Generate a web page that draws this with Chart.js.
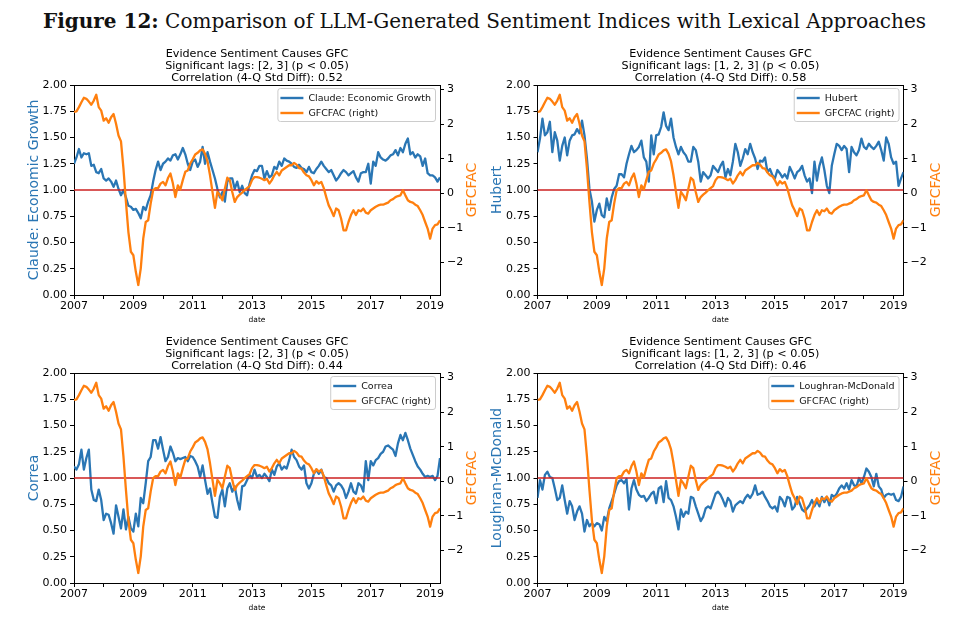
<!DOCTYPE html>
<html>
<head>
<meta charset="utf-8">
<script src="https://cdn.jsdelivr.net/npm/chart.js@4.4.1/dist/chart.umd.min.js"></script>
<style>
  body { margin: 0; background: #fff; width: 969px; height: 625px; overflow: hidden; position: relative; }
  #figtitle { position: absolute; left: 0; top: 11px; width: 969px; text-align: center;
              font: 20px "DejaVu Serif"; line-height: 20px; color: #111; white-space: nowrap; }
  .panel { position: absolute; height: 292px; }
</style>
</head>
<body>
<div id="figtitle"><b>Figure 12:</b> Comparison of LLM-Generated Sentiment Indices with Lexical Approaches</div>
<div class="panel" style="left:0;top:38px;width:484px"><canvas id="c1"></canvas></div>
<div class="panel" style="left:484px;top:38px;width:485px"><canvas id="c2"></canvas></div>
<div class="panel" style="left:0;top:326px;width:484px"><canvas id="c3"></canvas></div>
<div class="panel" style="left:484px;top:326px;width:485px"><canvas id="c4"></canvas></div>
<script>
// monthly series, Jan 2007 .. May 2019
const START_YEAR = 2007;
const REF_LEVEL = 1;
const RIGHT_MIN = -2.94, RIGHT_MAX = 3.13;

const GFCFAC = [
  2.35, 2.37, 2.49, 2.63, 2.76, 2.73, 2.65, 2.56, 2.68, 2.85,
  2.49, 2.39, 2.10, 2.17, 2.04, 2.20, 2.29, 2.01, 1.67, 1.50,
  0.71, -0.25, -1.12, -1.69, -1.79, -2.27, -2.65, -2.17, -1.31, -0.83,
  -0.78, -0.30, 0.09, 0.15, 0.15, 0.28, 0.33, 0.23, 0.44, 0.57,
  0.28, -0.11, 0.23, 0.11, 0.38, 0.62, 0.66, 0.86, 0.98, 1.12,
  1.17, 1.24, 1.27, 1.14, 0.92, 0.52, 0.04, -0.42, 0.04, -0.06,
  -0.20, 0.13, 0.45, 0.38, 0.04, -0.25, -0.11, -0.04, 0.02, 0.09,
  0.15, 0.21, 0.38, 0.47, 0.47, 0.45, 0.42, 0.38, 0.42, 0.28,
  0.38, 0.52, 0.62, 0.52, 0.66, 0.71, 0.76, 0.81, 0.81, 0.88,
  0.83, 0.73, 0.71, 0.60, 0.52, 0.49, 0.38, 0.23, 0.35, 0.28,
  0.33, 0.15, -0.11, -0.35, -0.49, -0.66, -0.44, -0.49, -0.73, -1.07,
  -1.07, -0.83, -0.63, -0.49, -0.63, -0.49, -0.52, -0.44, -0.56, -0.59,
  -0.49, -0.44, -0.39, -0.35, -0.33, -0.33, -0.30, -0.27, -0.20, -0.17,
  -0.11, -0.08, -0.06, 0.09, -0.06, -0.20, -0.25, -0.27, -0.33, -0.37,
  -0.49, -0.63, -0.83, -1.02, -1.31, -1.02, -0.92, -0.90, -0.78
];

const CLAUDE = [
  1.25, 1.31, 1.39, 1.31, 1.35, 1.34, 1.35, 1.23, 1.24, 1.17,
  1.16, 1.20, 1.11, 1.09, 1.11, 1.08, 1.03, 1.09, 1.01, 0.95,
  1.00, 0.93, 0.85, 0.84, 0.81, 0.82, 0.78, 0.73, 0.84, 0.81,
  0.89, 0.95, 1.08, 1.19, 1.27, 1.19, 1.25, 1.27, 1.30, 1.28,
  1.33, 1.34, 1.29, 1.34, 1.40, 1.34, 1.25, 1.19, 1.27, 1.29,
  1.22, 1.27, 1.41, 1.25, 1.36, 1.27, 1.19, 1.11, 1.01, 0.93,
  0.98, 0.89, 1.08, 1.11, 1.11, 1.01, 1.08, 0.98, 1.04, 0.97,
  0.95, 1.06, 1.14, 1.19, 1.18, 1.23, 1.23, 1.11, 1.18, 1.12,
  1.14, 1.22, 1.20, 1.27, 1.23, 1.30, 1.28, 1.27, 1.25, 1.22,
  1.21, 1.24, 1.21, 1.20, 1.17, 1.22, 1.17, 1.16, 1.20, 1.23,
  1.27, 1.23, 1.20, 1.17, 1.19, 1.14, 1.09, 1.12, 1.16, 1.19,
  1.17, 1.14, 1.16, 1.18, 1.12, 1.08, 1.16, 1.17, 1.17, 1.25,
  1.06, 1.27, 1.23, 1.36, 1.31, 1.29, 1.28, 1.30, 1.33, 1.34,
  1.38, 1.33, 1.40, 1.36, 1.44, 1.49, 1.34, 1.36, 1.31, 1.34,
  1.32, 1.23, 1.30, 1.16, 1.14, 1.14, 1.12, 1.08, 1.12
];

const HUBERT = [
  1.36, 1.49, 1.68, 1.52, 1.55, 1.65, 1.36, 1.55, 1.47, 1.28,
  1.42, 1.50, 1.33, 1.47, 1.52, 1.53, 1.58, 1.54, 1.66, 1.52,
  1.30, 1.01, 0.89, 0.70, 0.81, 0.87, 0.76, 0.74, 0.92, 0.81,
  0.93, 1.01, 1.04, 1.15, 1.15, 1.12, 1.25, 1.34, 1.42, 1.36,
  1.38, 1.41, 1.47, 1.31, 1.27, 1.08, 1.52, 1.34, 1.52, 1.53,
  1.60, 1.74, 1.61, 1.57, 1.68, 1.50, 1.41, 1.34, 1.41, 1.36,
  1.33, 1.27, 1.27, 1.41, 1.38, 1.27, 1.08, 1.17, 1.14, 1.11,
  1.14, 1.23, 1.20, 1.17, 1.23, 1.27, 1.12, 1.20, 1.14, 1.27,
  1.44, 1.36, 1.23, 1.30, 1.39, 1.34, 1.44, 1.36, 1.30, 1.20,
  1.28, 1.27, 1.31, 1.17, 1.20, 1.14, 1.11, 1.19, 1.16, 1.12,
  1.15, 1.11, 1.22, 1.17, 1.11, 1.17, 1.19, 1.23, 1.14, 1.08,
  1.11, 0.97, 1.27, 1.09, 1.23, 1.31, 1.19, 1.04, 0.97, 1.23,
  1.34, 1.44, 1.42, 1.38, 1.42, 1.39, 1.17, 1.41, 1.36, 1.33,
  1.38, 1.49, 1.41, 1.39, 1.44, 1.41, 1.39, 1.42, 1.46, 1.38,
  1.28, 1.50, 1.44, 1.31, 1.25, 1.27, 1.04, 1.11, 1.17
];

const CORREA = [
  1.11, 1.08, 1.13, 1.27, 1.08, 1.19, 1.27, 0.89, 0.79, 0.78,
  0.89, 0.79, 0.60, 0.66, 0.65, 0.57, 0.47, 0.74, 0.63, 0.52,
  0.70, 0.51, 0.63, 0.52, 0.49, 0.66, 0.54, 0.81, 0.76, 0.95,
  1.16, 1.20, 1.36, 1.36, 1.28, 1.39, 1.27, 1.16, 1.20, 1.30,
  1.24, 1.16, 1.19, 1.18, 1.19, 1.20, 1.16, 1.21, 1.20, 1.16,
  1.11, 1.01, 1.12, 0.98, 0.85, 0.90, 0.76, 0.63, 0.62, 0.82,
  0.89, 0.73, 0.90, 0.95, 0.87, 0.92, 0.79, 0.70, 0.92, 0.93,
  0.98, 1.03, 1.00, 1.08, 1.01, 1.03, 1.00, 1.04, 1.01, 0.97,
  1.08, 1.03, 1.11, 1.14, 1.08, 1.11, 1.09, 1.17, 1.27, 1.20,
  1.17, 1.11, 1.08, 1.12, 0.95, 0.90, 0.95, 1.04, 1.08, 1.04,
  1.08, 1.01, 1.00, 0.95, 0.93, 0.87, 0.93, 0.95, 0.93, 0.89,
  0.81, 0.87, 0.95, 0.87, 0.85, 0.95, 0.93, 0.87, 1.16, 0.98,
  1.16, 1.12, 1.17, 1.19, 1.23, 1.25, 1.30, 1.31, 1.29, 1.27,
  1.21, 1.33, 1.41, 1.36, 1.43, 1.36, 1.28, 1.22, 1.16, 1.11,
  1.08, 1.04, 1.01, 1.02, 1.01, 1.02, 0.98, 1.02, 1.19
];

const LOUGHRAN = [
  0.81, 0.98, 0.89, 1.03, 1.06, 1.01, 1.00, 0.90, 0.79, 0.81,
  0.93, 0.79, 0.66, 0.78, 0.73, 0.60, 0.68, 0.73, 0.66, 0.49,
  0.60, 0.54, 0.57, 0.54, 0.57, 0.56, 0.50, 0.63, 0.59, 0.71,
  0.78, 0.85, 0.93, 0.97, 0.98, 0.95, 0.99, 0.70, 0.90, 0.98,
  0.89, 0.84, 0.82, 0.83, 0.78, 0.81, 0.85, 0.87, 0.76, 0.90,
  0.92, 0.77, 0.97, 0.81, 0.79, 0.73, 0.63, 0.51, 0.70, 0.63,
  0.68, 0.66, 0.82, 0.81, 0.73, 0.66, 0.59, 0.63, 0.71, 0.73,
  0.71, 0.78, 0.85, 0.87, 0.84, 0.79, 0.73, 0.81, 0.78, 0.68,
  0.74, 0.76, 0.78, 0.76, 0.81, 0.84, 0.81, 0.85, 0.93, 0.84,
  0.85, 0.87, 0.82, 0.78, 0.73, 0.71, 0.73, 0.68, 0.82, 0.79,
  0.73, 0.82, 0.81, 0.70, 0.73, 0.82, 0.76, 0.70, 0.68, 0.71,
  0.74, 0.79, 0.73, 0.78, 0.73, 0.82, 0.77, 0.82, 0.74, 0.84,
  0.82, 0.85, 0.90, 0.93, 0.90, 0.95, 0.89, 0.98, 0.93, 0.92,
  1.00, 0.95, 1.01, 1.09, 1.06, 1.01, 0.92, 1.04, 0.92, 0.89,
  0.81, 0.84, 0.85, 0.84, 0.85, 0.79, 0.78, 0.82, 0.92
];

const PANELS = [
  { id: 'c1', name: 'Claude: Economic Growth', values: CLAUDE, lags: '[2, 3]', corr: '0.52' },
  { id: 'c2', name: 'Hubert', values: HUBERT, lags: '[1, 2, 3]', corr: '0.58' },
  { id: 'c3', name: 'Correa', values: CORREA, lags: '[2, 3]', corr: '0.44' },
  { id: 'c4', name: 'Loughran-McDonald', values: LOUGHRAN, lags: '[1, 2, 3]', corr: '0.46' }
];

// axis box widths per panel (px)
const LAYOUT = {
  c1: { yw: 74, y1w: 44 },
  c2: { yw: 53.5, y1w: 65.5 },
  c3: { yw: 74, y1w: 44 },
  c4: { yw: 53.5, y1w: 65.5 }
};

const BLUE = '#2a76b4', ORANGE = '#ff7f0e', RED = '#cc2020';
const FONT = 'DejaVu Sans';

const xOf = i => START_YEAR + i / 12;
const X_MAX = xOf(GFCFAC.length - 1);
const fmtMinus = v => (v < 0 ? '\u2212' : '') + Math.abs(v);

const decorPlugin = {
  id: 'decor',
  afterDraw(chart) {
    const { ctx, chartArea: a } = chart;
    const p = chart.options.plugins.decor;
    ctx.save();
    // top spine
    ctx.strokeStyle = '#000';
    ctx.lineWidth = 1;
    ctx.beginPath();
    ctx.moveTo(a.left, Math.round(a.top) + 0.5);
    ctx.lineTo(a.right, Math.round(a.top) + 0.5);
    ctx.stroke();

    // subplot title
    const cx = (a.left + a.right) / 2;
    ctx.fillStyle = '#000';
    ctx.font = '11.2px "' + FONT + '"';
    ctx.textAlign = 'center';
    ctx.textBaseline = 'alphabetic';
    p.title.forEach((line, k) => ctx.fillText(line, cx, a.top - 28.5 + k * 12.1));

    // axis titles, both read bottom to top
    ctx.font = '14px "' + FONT + '"';
    const cy = (a.top + a.bottom) / 2;
    ctx.save();
    ctx.translate(a.left - 36.5, cy);
    ctx.rotate(-Math.PI / 2);
    ctx.fillStyle = BLUE;
    ctx.fillText(p.leftTitle, 0, 0);
    ctx.restore();
    ctx.save();
    ctx.translate(a.right + 36, cy);
    ctx.rotate(-Math.PI / 2);
    ctx.fillStyle = ORANGE;
    ctx.fillText('GFCFAC', 0, 0);
    ctx.restore();

    // legend box, upper right inside the axes
    const items = chart.data.datasets.filter(d => d.inLegend);
    ctx.font = '9.5px "' + FONT + '"';
    const tw = Math.max(...items.map(d => ctx.measureText(d.label).width));
    const bw = 31 + tw + 4, bh = 33;
    const bx = a.right - 5 - bw, by = a.top + 3;
    ctx.beginPath();
    ctx.roundRect(bx + 0.5, by + 0.5, bw, bh, 2.5);
    ctx.fillStyle = 'rgba(255,255,255,0.8)';
    ctx.fill();
    ctx.strokeStyle = '#cccccc';
    ctx.stroke();
    items.forEach((d, k) => {
      const ly = by + 10 + k * 15;
      ctx.strokeStyle = d.borderColor;
      ctx.lineWidth = 2.4;
      ctx.beginPath();
      ctx.moveTo(bx + 3, ly);
      ctx.lineTo(bx + 26, ly);
      ctx.stroke();
      ctx.fillStyle = '#111';
      ctx.textAlign = 'left';
      ctx.textBaseline = 'middle';
      ctx.fillText(d.label, bx + 31, ly + 0.5);
    });
    ctx.restore();
  }
};

const tickFont = { family: FONT, size: 11 };

PANELS.forEach(pn => {
  const lay = LAYOUT[pn.id];
  new Chart(document.getElementById(pn.id), {
    type: 'line',
    data: {
      datasets: [
        {
          label: pn.name, inLegend: true, yAxisID: 'y', order: 3,
          data: pn.values.map((v, i) => ({ x: xOf(i), y: v })),
          borderColor: BLUE, borderWidth: 2.3
        },
        {
          label: 'ref', inLegend: false, yAxisID: 'y', order: 2,
          data: [{ x: START_YEAR, y: REF_LEVEL }, { x: X_MAX, y: REF_LEVEL }],
          borderColor: RED, borderWidth: 1.7
        },
        {
          label: 'GFCFAC (right)', inLegend: true, yAxisID: 'y1', order: 1,
          data: GFCFAC.map((v, i) => ({ x: xOf(i), y: v })),
          borderColor: ORANGE, borderWidth: 2.3
        }
      ]
    },
    options: {
      responsive: true,
      maintainAspectRatio: false,
      animation: false,
      devicePixelRatio: 1,
      layout: { padding: { top: 47, left: 0, right: 0, bottom: 0 } },
      elements: {
        point: { radius: 0 },
        line: { tension: 0, borderJoinStyle: 'round', fill: false }
      },
      plugins: {
        legend: { display: false },
        tooltip: { enabled: false },
        decor: {
          title: ['Evidence Sentiment Causes GFC',
                  'Significant lags: ' + pn.lags + ' (p < 0.05)',
                  'Correlation (4-Q Std Diff): ' + pn.corr],
          leftTitle: pn.name
        }
      },
      scales: {
        x: {
          type: 'linear', min: START_YEAR, max: X_MAX, offset: false,
          ticks: {
            stepSize: 1, includeBounds: false, autoSkip: false,
            maxRotation: 0, minRotation: 0, padding: 1, color: '#000', font: tickFont,
            callback: v => (v % 2 === 1 ? String(v) : '')
          },
          grid: { drawOnChartArea: false, drawTicks: true, tickLength: 4, tickColor: '#000' },
          border: { display: true, color: '#000', width: 1 },
          title: { display: true, text: 'date', color: '#000',
                   font: { family: FONT, size: 7.5 }, padding: { top: 0, bottom: 5 } },
          afterFit: s => { s.height = 35; }
        },
        y: {
          position: 'left', min: 0, max: 2,
          ticks: { stepSize: 0.25, padding: 3, color: '#000', font: tickFont,
                   callback: v => v.toFixed(2) },
          grid: { drawOnChartArea: false, drawTicks: true, tickLength: 4, tickColor: '#000' },
          border: { display: true, color: '#000', width: 1 },
          afterFit: s => { s.width = lay.yw; }
        },
        y1: {
          position: 'right', min: RIGHT_MIN, max: RIGHT_MAX,
          ticks: { stepSize: 1, includeBounds: false, padding: 3, color: '#000', font: tickFont,
                   callback: fmtMinus },
          grid: { drawOnChartArea: false, drawTicks: true, tickLength: 4, tickColor: '#000' },
          border: { display: true, color: '#000', width: 1 },
          afterFit: s => { s.width = lay.y1w; }
        }
      }
    },
    plugins: [decorPlugin]
  });
});
</script>
</body>
</html>
